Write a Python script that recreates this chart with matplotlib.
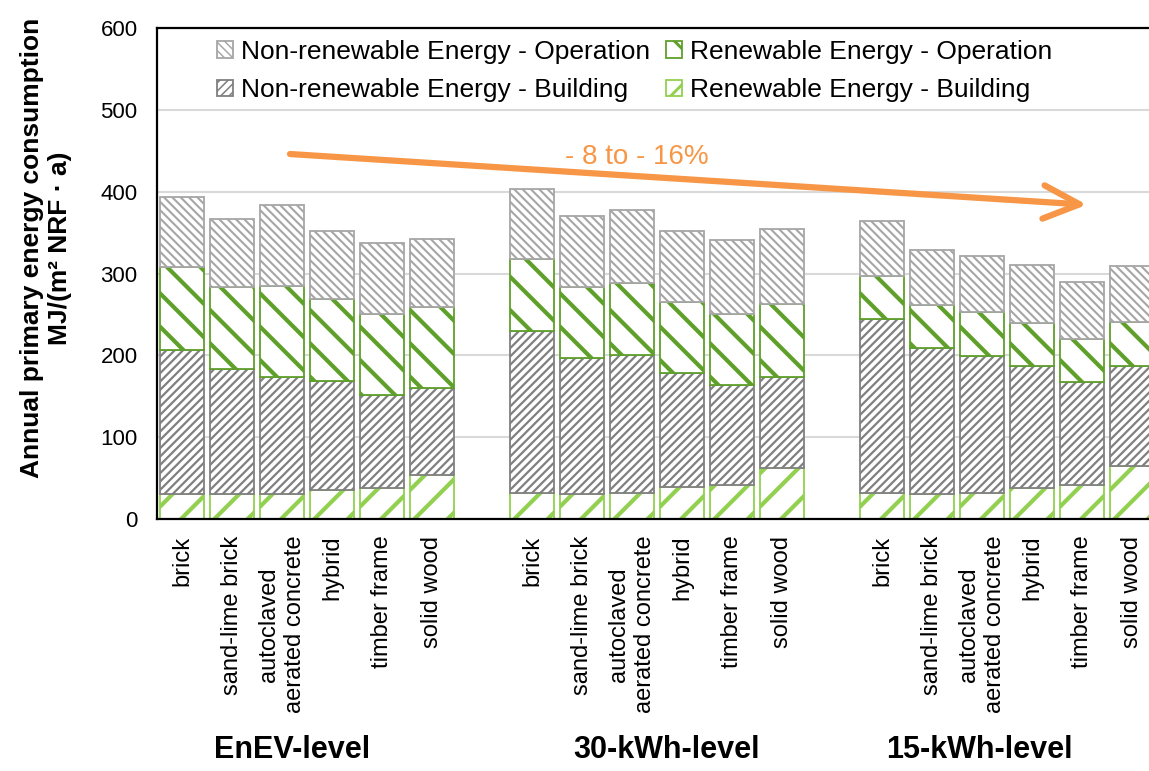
import numpy as np
import matplotlib
matplotlib.use("Agg")
import matplotlib.pyplot as plt

plt.rcParams['font.family'] = ['Liberation Sans', 'DejaVu Sans']
plt.rcParams['hatch.linewidth'] = 1.6

levels = ['EnEV-level', '30-kWh-level', '15-kWh-level']
materials = ['brick', 'sand-lime brick', 'autoclaved\naerated concrete',
             'hybrid', 'timber frame', 'solid wood']

# MJ/(m2 NRF a), six materials per level, stacked bottom to top
re_building = [31, 31, 31, 36, 38, 54,
               32, 31, 32, 39, 42, 62,
               32, 31, 32, 38, 42, 65]
nre_building = [176, 152, 143, 133, 114, 106,
                198, 166, 169, 140, 122, 112,
                213, 178, 167, 149, 126, 122]
re_operation = [101, 100, 111, 100, 99, 99,
                88, 86, 87, 86, 87, 89,
                52, 52, 54, 53, 52, 54]
nre_operation = [86, 83, 99, 83, 86, 83,
                 85, 87, 90, 87, 90, 91,
                 67, 68, 68, 70, 70, 68]

reduction_text = '- 8 to - 16%'


def hatch_width(artist, lw):
    # per-artist hatch width, falling back to rcParams at draw time
    if hasattr(artist, 'set_hatch_linewidth'):
        artist.set_hatch_linewidth(lw)
        return
    orig = artist.draw

    def draw(renderer):
        with plt.rc_context({'hatch.linewidth': lw}):
            orig(renderer)
    artist.draw = draw


# one empty slot between the levels
n = len(materials)
x = np.array([g * (n + 1) + i for g in range(len(levels)) for i in range(n)])

fig = plt.figure(figsize=(11.49, 7.71), dpi=100)
ax = fig.add_axes([157 / 1149, 252 / 771, 1000 / 1149, 491 / 771])

layers = [
    (re_building, 'Renewable Energy - Building', '#92D050', '/', 3.0),
    (nre_building, 'Non-renewable Energy - Building', '#808080', '////', 1.6),
    (re_operation, 'Renewable Energy - Operation', '#5EA02A', '\\', 3.0),
    (nre_operation, 'Non-renewable Energy - Operation', '#A6A6A6', '\\\\\\\\', 1.5),
]

bottom = np.zeros(len(x))
handles = {}
widths = {}
for vals, label, col, hatch, hlw in layers:
    bars = ax.bar(x, vals, bottom=bottom, width=0.88, color='white',
                  edgecolor=col, hatch=hatch, linewidth=1.3, label=label)
    for b in bars:
        hatch_width(b, hlw)
    handles[label] = bars
    widths[label] = hlw
    bottom += np.array(vals)

ax.set_xlim(-0.5, len(levels) * (n + 1) - 1.5)
ax.set_ylim(0, 600)
ax.set_yticks(range(0, 601, 100))
ax.yaxis.grid(True, color='#D9D9D9', linewidth=1.5)
ax.set_axisbelow(True)
ax.tick_params(axis='y', length=0, pad=14, labelsize=16)
ax.set_xticks(x)
ax.set_xticklabels(materials * len(levels), rotation=90, multialignment='center')
ax.tick_params(axis='x', length=0, pad=12, labelsize=17)
for s in ax.spines.values():
    s.set_color('black')
    s.set_linewidth(1.6)

# level names under the material labels
level_pos = [2.2, 9.7, 15.95]
for lx, name in zip(level_pos, levels):
    ax.text(lx, -0.47, name, transform=ax.get_xaxis_transform(), ha='center',
            va='center', fontsize=22, fontweight='bold')

fig.text(46 / 1149, 1 - 248 / 771,
         'Annual primary energy consumption\nMJ/(m² NRF · a)',
         rotation=90, ha='center', va='center', multialignment='center',
         fontsize=19, fontweight='bold', linespacing=1.2)

order = ['Non-renewable Energy - Operation', 'Non-renewable Energy - Building',
         'Renewable Energy - Operation', 'Renewable Energy - Building']
leg = ax.legend([handles[k] for k in order], order, ncol=2, loc='upper left',
                bbox_to_anchor=(0.044, 1.008), frameon=False, fontsize=19,
                handlelength=0.6, handleheight=0.6, handletextpad=0.3,
                columnspacing=0.63, labelspacing=0.55, borderaxespad=0.2)
for p, k in zip(leg.get_patches(), order):
    hatch_width(p, widths[k] * 0.7)

# trend arrow across the three levels
orange = '#F79646'
ax.annotate('', xy=(18.1, 384), xytext=(2.16, 446),
            arrowprops=dict(arrowstyle='->,head_length=1.3,head_width=0.6',
                            color=orange, lw=4.5, mutation_scale=20,
                            shrinkA=0, shrinkB=0))
ax.text(9.1, 442, reduction_text, color=orange, fontsize=20,
        ha='center', va='center')

fig.savefig('out.png', dpi=100)
